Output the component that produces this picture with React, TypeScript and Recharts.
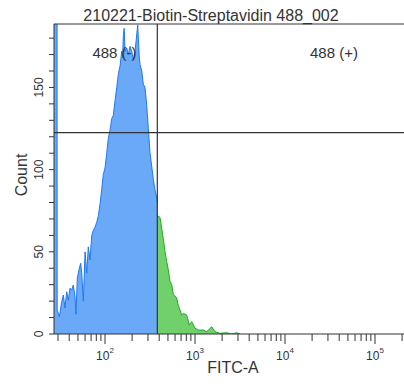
import { AreaChart, Area, XAxis, YAxis, ReferenceLine } from 'recharts';

const title = '210221-Biotin-Streptavidin 488_002';
const xLabel = 'FITC-A';
const yLabel = 'Count';
const gateLabels = ['488 (-)', '488 (+)'];

// gate thresholds
const gateFitc = 381;
const gateCount = 122.5;

// histogram, negative side (blue)
const negFitc = [
  27.1, 29.2, 29.4, 31.1, 33.0, 34.4, 35.9, 37.5, 39.1, 40.8, 42.7, 44.4, 46.4, 47.6, 49.2, 51.8,
  53.7, 55.1, 57.4, 60.0, 62.6, 65.2, 68.1, 71.2, 74.1, 77.4, 80.9, 84.3, 88.0, 91.8, 95.7, 100,
  104.4, 108.8, 113.6, 118.7, 123.6, 129.2, 134.9, 140.5, 146.8, 153.3, 156.5, 159.7, 163.2, 166.8,
  174.2, 181.5, 189.6, 198.0, 206.3, 215.4, 221.1, 230.8, 234.4, 240.5, 244.8, 255.7, 266.4, 278.3,
  290.6, 302.8, 316.2, 330.3, 344.1, 359.4, 375.3, 381,
];
const negCount = [
  400, 400, 14.6, 10.5, 19.6, 23.7, 15.8, 25.7, 20.6, 27.9, 26.7, 29.8, 22.7, 12, 34, 40,
  43, 37, 20, 50, 37, 53, 45, 60, 63, 65, 68, 72, 79, 88, 97, 101,
  110, 119, 124, 131, 133, 142, 150, 158, 163, 172, 168, 181, 186, 172,
  174, 170, 175, 172, 167, 172, 178, 188, 180, 168, 164, 160, 152, 150,
  139, 125, 110, 102, 94, 87.5, 83, 80,
];

// histogram, positive side (green)
const posFitc = [
  381, 408, 427, 444, 464, 485, 505, 527, 551, 574, 600, 626, 650, 681, 711, 741,
  775, 809, 864, 919, 1000, 1088, 1236, 1349, 1533, 1668, 1896, 2250, 2557, 2906, 3162,
];
const posCount = [
  72, 71, 64, 58, 50, 44, 39, 32, 30, 24, 23, 22, 17.6, 14.6, 11.5, 12.6,
  12, 11.5, 5.5, 7.5, 3.5, 2.4, 2.4, 1.4, 4.4, 1.4, 0.4, 0.8, 0, 0.8, 0,
];

const xDomain = [27.1, 210000];
const yMax = 188.6;
const decades = [10, 100, 1000, 10000, 100000];
const multipliers = [1, 2, 3, 4, 5, 6, 7, 8, 9];
const yTicks = [0, 10, 20, 30, 40, 50, 60, 70, 80, 90, 100, 110, 120, 130, 140, 150, 160, 170, 180];
const yLabelTicks = [0, 50, 100, 150];

const xTicks: number[] = [];
decades.forEach((d) =>
  multipliers.forEach((m) => {
    const v = d * m;
    if (v >= xDomain[0] && v <= xDomain[1]) xTicks.push(v);
  })
);

const rows: { fitc: number; neg?: number; pos?: number }[] = [];
negFitc.forEach((f, i) => rows.push({ fitc: f, neg: negCount[i] }));
posFitc.forEach((f, i) => {
  if (f === gateFitc) {
    const r = rows.find((row) => row.fitc === f);
    if (r) {
      r.pos = posCount[i];
      return;
    }
  }
  rows.push({ fitc: f, pos: posCount[i] });
});

const font = '"Liberation Sans", Arial, sans-serif';
const ink = '#333';

const XTick = (props: any) => {
  const { x, y, payload } = props;
  const v = payload.value as number;
  const exp = Math.round(Math.log10(v));
  const major = Math.abs(Math.pow(10, exp) - v) < 1e-6;
  return (
    <g>
      <line x1={x} x2={x} y1={y} y2={y + (major ? 10 : 7)} stroke={ink} strokeWidth={1} />
      {major && (
        <text x={x} y={y + 26} textAnchor="middle" fontSize={12} fontFamily={font} fill={ink}>
          10
          <tspan fontSize={8} dy={-7}>
            {exp}
          </tspan>
        </text>
      )}
    </g>
  );
};

const YTick = (props: any) => {
  const { x, y, payload } = props;
  const v = payload.value as number;
  return (
    <g>
      <line x1={x - 5} x2={x} y1={y} y2={y} stroke={ink} strokeWidth={1} />
      {yLabelTicks.includes(v) && (
        <text
          x={0}
          y={0}
          transform={`translate(${x - 11.5}, ${y}) rotate(-90)`}
          textAnchor="middle"
          fontSize={12}
          fontFamily={font}
          fill={ink}
        >
          {v}
        </text>
      )}
    </g>
  );
};

export default function App() {
  return (
    <div style={{ position: 'absolute', left: 0, top: 0, width: 404, height: 385, background: '#fff' }}>
      <AreaChart width={404} height={385} data={rows} margin={{ top: 24, right: 0, bottom: 0, left: 0 }}>
        <XAxis
          dataKey="fitc"
          type="number"
          scale="log"
          domain={xDomain}
          allowDataOverflow
          ticks={xTicks}
          interval={0}
          tick={<XTick />}
          tickLine={false}
          tickSize={0}
          tickMargin={0}
          height={51}
          axisLine={{ stroke: ink }}
        />
        <YAxis
          type="number"
          domain={[0, yMax]}
          allowDataOverflow
          ticks={yTicks}
          interval={0}
          tick={<YTick />}
          tickLine={false}
          tickSize={0}
          tickMargin={0}
          width={54}
          axisLine={{ stroke: ink }}
        />
        <Area
          type="linear"
          dataKey="neg"
          stroke="#1f78f2"
          strokeWidth={1}
          fill="#6aa9f7"
          fillOpacity={1}
          isAnimationActive={false}
          dot={false}
          activeDot={false}
        />
        <Area
          type="linear"
          dataKey="pos"
          stroke="#22aa22"
          strokeWidth={1}
          fill="#6fd06c"
          fillOpacity={1}
          isAnimationActive={false}
          dot={false}
          activeDot={false}
        />
        <ReferenceLine y={yMax} stroke={ink} strokeWidth={1} />
        <ReferenceLine x={gateFitc} stroke={ink} strokeWidth={1.2} />
        <ReferenceLine y={gateCount} stroke={ink} strokeWidth={1.2} />
      </AreaChart>
      <svg
        width={404}
        height={385}
        style={{ position: 'absolute', left: 0, top: 0, pointerEvents: 'none' }}
        fontFamily={font}
        fill={ink}
      >
        <text x={211} y={21} textAnchor="middle" fontSize={16}>
          {title}
        </text>
        <text x={114.5} y={58} textAnchor="middle" fontSize={15}>
          {gateLabels[0]}
        </text>
        <text x={334} y={58} textAnchor="middle" fontSize={15}>
          {gateLabels[1]}
        </text>
        <text x={0} y={0} transform="translate(26.5, 175) rotate(-90)" textAnchor="middle" fontSize={16}>
          {yLabel}
        </text>
        <text x={233} y={373} textAnchor="middle" fontSize={16}>
          {xLabel}
        </text>
      </svg>
    </div>
  );
}
